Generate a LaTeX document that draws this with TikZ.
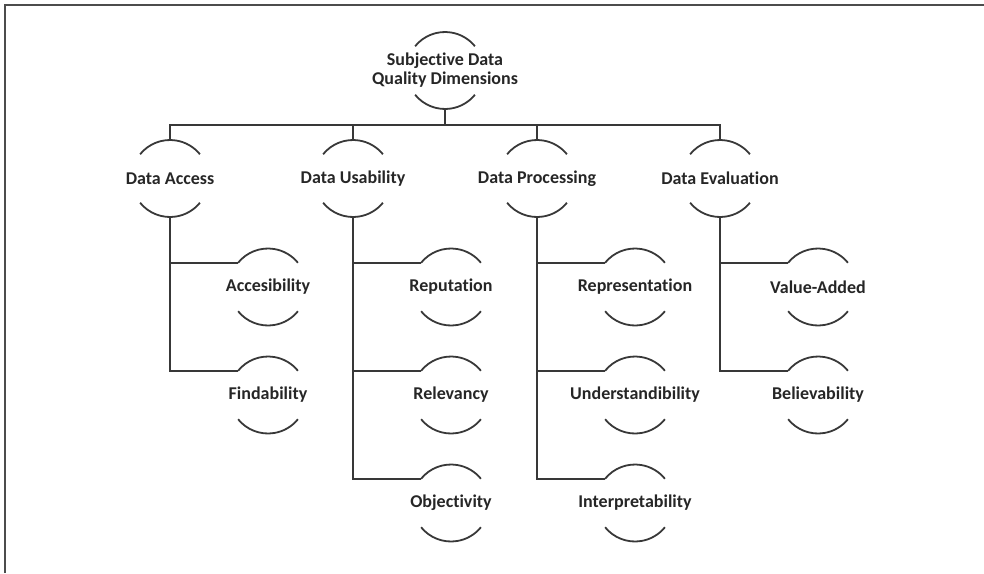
\documentclass[tikz,border=0pt]{standalone}
\usepackage{fontspec}
\setmainfont[Ligatures=NoCommon]{Carlito}

\begin{document}
\begin{tikzpicture}[x=1pt,y=1pt,
  dim/.style={circle,minimum size=77pt,inner sep=0pt,outer sep=0pt,
    label={[dimtext]center:#1}},
  dimtext/.style={font=\fontsize{18}{19}\selectfont\bfseries,text=black!85,align=center},
  link/.style={draw=black!78,line width=1.8pt}]
\def\rad{38.5} \def\bus{-16}

\useasboundingbox (0,0) rectangle (984,-573);
\draw[black!70,line width=2.2pt] (5,-573)--(5,-5)--(984,-5);

% top
\node[dim={Subjective Data\\Quality Dimensions}] (root) at (445,-70.5) {};

% the four groups
\node[dim=Data Access] (acc) at (170,-178.5) {};
\node[dim=Data Usability] (usa) at (353,-178.5) {};
\node[dim=Data Processing] (pro) at (537,-178.5) {};
\node[dim=Data Evaluation] (eva) at (720,-178.5) {};

% dimensions in each group
\node[dim=Accesibility] (accs) at (268,-287) {};
\node[dim=Findability] (find) at (268,-395) {};

\node[dim=Reputation] (repu) at (451,-287) {};
\node[dim=Relevancy] (rele) at (451,-395) {};
\node[dim=Objectivity] (obje) at (451,-503) {};

\node[dim=Representation] (repr) at (635,-287) {};
\node[dim=Understandibility] (unde) at (635,-395) {};
\node[dim=Interpretability] (inte) at (635,-503) {};

\node[dim=Value-Added] (valu) at (818,-287) {};
\node[dim=Believability] (beli) at (818,-395) {};

% open circles: only top and bottom arcs
\foreach \n in {root,acc,usa,pro,eva,accs,find,repu,rele,obje,repr,unde,inte,valu,beli} {
  \draw[link] (\n.141) arc[start angle=141,end angle=39,radius=\rad pt];
  \draw[link] (\n.-141) arc[start angle=-141,end angle=-39,radius=\rad pt];
}

% connectors
\foreach \n in {acc,usa,pro,eva}
  \draw[link] (root.south) -- ++(0,\bus) -| (\n.north);

\foreach \p/\c in {acc/accs,acc/find,usa/repu,usa/rele,usa/obje,
                   pro/repr,pro/unde,pro/inte,eva/valu,eva/beli}
  \draw[link] (\p.south) |- (\c.141);
\end{tikzpicture}
\end{document}
